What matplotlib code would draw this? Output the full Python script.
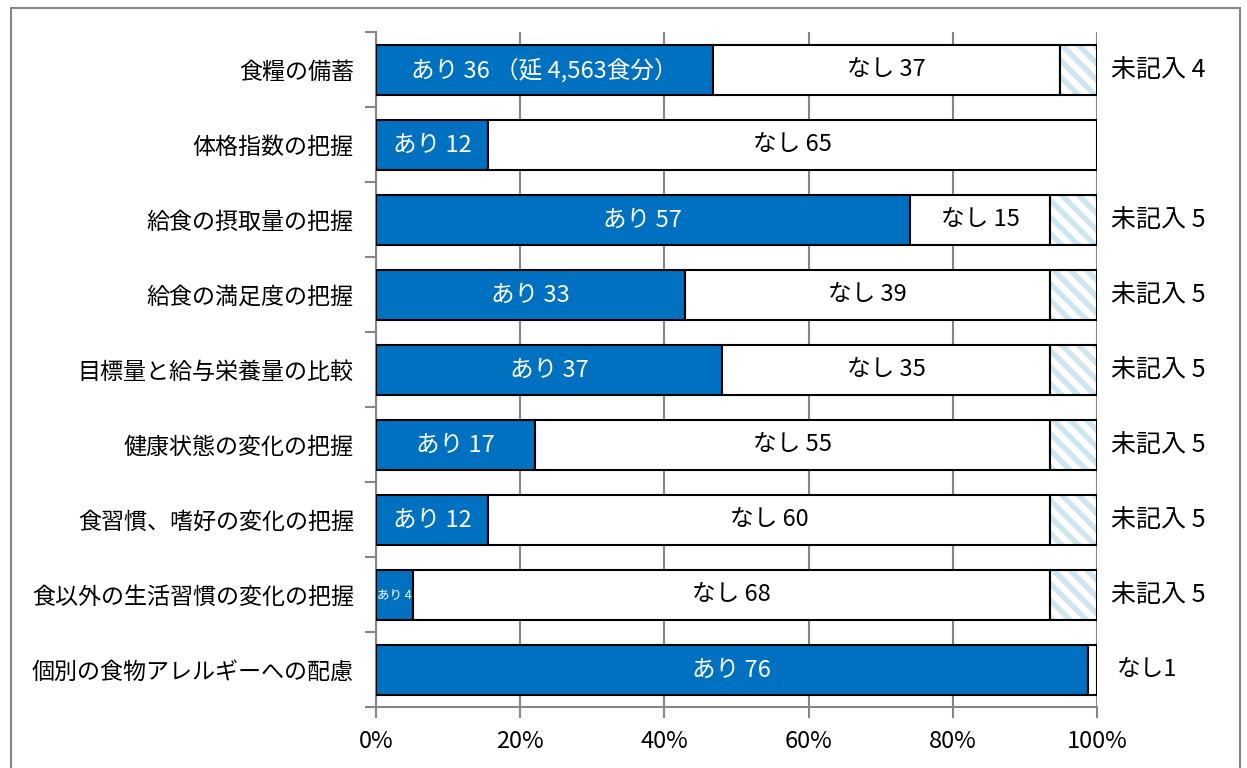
import numpy as np
import matplotlib.pyplot as plt
from matplotlib.patches import Rectangle

plt.rcParams['font.family'] = ['Noto Sans CJK JP', 'DejaVu Sans']
plt.rcParams['hatch.color'] = '#cde6f0'
plt.rcParams['hatch.linewidth'] = 4

# 項目（上から順）
categories = ['食糧の備蓄', '体格指数の把握', '給食の摂取量の把握', '給食の満足度の把握',
              '目標量と給与栄養量の比較', '健康状態の変化の把握', '食習慣、嗜好の変化の把握',
              '食以外の生活習慣の変化の把握', '個別の食物アレルギーへの配慮']
ari = [36, 12, 57, 33, 37, 17, 12, 4, 76]
nashi = [37, 65, 15, 39, 35, 55, 60, 68, 1]
mikinyu = [4, 0, 5, 5, 5, 5, 5, 5, 0]

ari_labels = ['あり 36 （延 4,563食分）', 'あり 12', 'あり 57', 'あり 33', 'あり 37',
              'あり 17', 'あり 12', 'あり 4', 'あり 76']
nashi_labels = ['なし 37', 'なし 65', 'なし 15', 'なし 39', 'なし 35',
                'なし 55', 'なし 60', 'なし 68', 'なし1']

ari = np.array(ari, dtype=float)
nashi = np.array(nashi, dtype=float)
mikinyu = np.array(mikinyu, dtype=float)
total = ari + nashi + mikinyu
p_ari = ari / total
p_nashi = nashi / total
p_mik = mikinyu / total

fig = plt.figure(figsize=(12.47, 7.68), dpi=100)
ax = fig.add_axes([0.3015, 0.0788, 0.5782, 0.879])

y = np.arange(len(categories))
h = 0.66
ax.barh(y, p_ari, height=h, color='#0070c0', edgecolor='black', linewidth=1.5, zorder=3)
ax.barh(y, p_nashi, left=p_ari, height=h, color='white', edgecolor='black', linewidth=1.5, zorder=3)
for i in range(len(y)):
    if mikinyu[i] > 0:
        ax.barh(y[i], p_mik[i], left=p_ari[i] + p_nashi[i], height=h, color='white',
                edgecolor='#cde6f0', hatch='\\\\', linewidth=0, zorder=3)
        ax.barh(y[i], p_mik[i], left=p_ari[i] + p_nashi[i], height=h, color='none',
                edgecolor='black', linewidth=1.5, zorder=4)

for i in range(len(y)):
    fs = 9 if ari[i] < 8 else 17
    ax.text(p_ari[i] / 2, y[i], ari_labels[i], color='white', ha='center', va='center',
            fontsize=fs, zorder=5)
    if i == len(y) - 1:
        ax.text(1.028, y[i], nashi_labels[i], color='black', ha='left', va='center',
                fontsize=17, zorder=5)
    else:
        ax.text(p_ari[i] + p_nashi[i] / 2, y[i], nashi_labels[i], color='black',
                ha='center', va='center', fontsize=17, zorder=5)
    if mikinyu[i] > 0:
        ax.text(1.02, y[i], '未記入 %d' % mikinyu[i], color='black', ha='left',
                va='center', fontsize=18, zorder=5)

ax.set_xlim(0, 1)
ax.set_ylim(len(categories) - 0.5, -0.5)
ax.set_xticks(np.arange(0, 1.01, 0.2))
ax.set_xticklabels(['0%', '20%', '40%', '60%', '80%', '100%'], fontsize=17)
ax.set_yticks(y)
ax.set_yticklabels(categories, fontsize=16.6)
ax.set_yticks(np.arange(-0.5, len(categories), 1), minor=True)
ax.tick_params(axis='y', which='major', length=0, pad=16)
ax.tick_params(axis='y', which='minor', length=8, color='#868686', width=1.5)
ax.tick_params(axis='x', length=8, color='#868686', width=1.5, pad=8)
ax.grid(axis='x', color='#868686', linewidth=1.5, zorder=0)
for s in ['top', 'right']:
    ax.spines[s].set_visible(False)
for s in ['left', 'bottom']:
    ax.spines[s].set_color('#868686')
    ax.spines[s].set_linewidth(1.5)

fig.patches.append(Rectangle((11 / 1247, -0.02), 1229 / 1247, 1.015 - 4 / 768,
                             transform=fig.transFigure, fill=False,
                             edgecolor='#868686', linewidth=1.5))

plt.savefig('out.png', dpi=100)
